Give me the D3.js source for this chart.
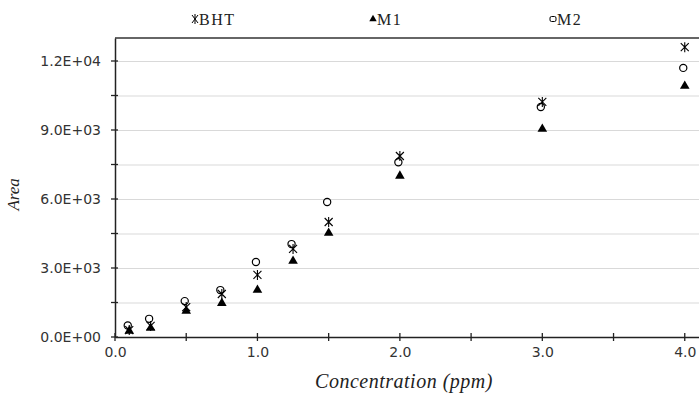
<!DOCTYPE html>
<html>
<head>
<meta charset="utf-8">
<script src="https://cdn.jsdelivr.net/npm/d3@7"></script>
<style>
    body { margin: 0; background: #fff; }
    svg { display: block; }
    .grid line { stroke: #d9d9d9; stroke-width: 1; }
    .grid .domain { display: none; }
    .tick text { font-family: "DejaVu Sans", sans-serif; font-size: 14px; fill: #333; }
    .axis-title { font-family: "Liberation Serif", "DejaVu Serif", serif; font-style: italic; fill: #222; }
    .legend-text { font-family: "Liberation Serif", "DejaVu Serif", serif; font-size: 16px; letter-spacing: 1.5px; fill: #222; }
</style>
</head>
<body>
<div id="chart"></div>
<script>
// concentration (ppm)
var concentrations = [0.1, 0.25, 0.5, 0.75, 1.0, 1.25, 1.5, 2.0, 3.0, 4.0];
// peak areas
var bhtArea = [300, 480, 1300, 1870, 2700, 3830, 5000, 7870, 10220, 12600];
var m1Area = [220, 350, 1090, 1430, 2000, 3260, 4480, 6960, 9000, 10870];
var m2Area = [500, 790, 1560, 2040, 3260, 4040, 5870, 7600, 10000, 11700];
var seriesNames = ["BHT", "M1", "M2"];
var yTickValues = [0, 3000, 6000, 9000, 12000];
var xTickValues = [0, 1, 2, 3, 4];

var graphWidth = 699, graphHeight = 393;
var margin = {top: 38, right: 0, bottom: 56, left: 115};
var width = graphWidth - margin.left - margin.right;
var height = graphHeight - margin.top - margin.bottom;

var svg = d3.select("#chart").append("svg")
    .attr("width", graphWidth)
    .attr("height", graphHeight);

var g = svg.append("g")
    .attr("transform", "translate(" + margin.left + "," + margin.top + ")");

var x = d3.scaleLinear().domain([0, 4.1]).range([0, width]);
var y = d3.scaleLinear().domain([0, 13000]).range([height, 0]);

// horizontal gridlines every 1500
g.append("g")
    .attr("class", "grid")
    .call(d3.axisLeft(y)
        .tickValues(d3.range(1500, 12001, 1500))
        .tickSize(-width)
        .tickFormat(""));

// top border
g.append("line")
    .attr("x1", 0).attr("x2", width)
    .attr("y1", 0).attr("y2", 0)
    .attr("stroke", "#333").attr("stroke-width", 1.5);

// tick marks crossing the axes
g.append("g").selectAll("line")
    .data(d3.range(0, 12001, 1500))
    .join("line")
    .attr("x1", -4).attr("x2", 3)
    .attr("y1", function (d) { return y(d); })
    .attr("y2", function (d) { return y(d); })
    .attr("stroke", "#222").attr("stroke-width", 1.3);

g.append("g").selectAll("line")
    .data(d3.range(0, 4.01, 0.5))
    .join("line")
    .attr("x1", function (d) { return x(d); })
    .attr("x2", function (d) { return x(d); })
    .attr("y1", height - 4).attr("y2", height + 4)
    .attr("stroke", "#222").attr("stroke-width", 1.3);

// Y axis
var yAxis = g.append("g")
    .call(d3.axisLeft(y)
        .tickValues(yTickValues)
        .tickSize(0)
        .tickPadding(14)
        .tickFormat(function (d) {
            var parts = d3.format(".1e")(d).split("e");   // "1.2e+4"
            var exp = parseInt(parts[1], 10);
            var e = Math.abs(exp);
            return parts[0] + "E" + (exp < 0 ? "-" : "+") + (e < 10 ? "0" + e : e);
        }));
yAxis.select(".domain").attr("stroke", "#222").attr("stroke-width", 1.5);

// X axis
var xAxis = g.append("g")
    .attr("transform", "translate(0," + height + ")")
    .call(d3.axisBottom(x)
        .tickValues(xTickValues)
        .tickSize(0)
        .tickPadding(10)
        .tickFormat(d3.format(".1f")));
xAxis.select(".domain").attr("stroke", "#222").attr("stroke-width", 1.5);

// axis titles
svg.append("text")
    .attr("class", "axis-title")
    .attr("font-size", "17px")
    .attr("transform", "translate(19," + (margin.top + y(6200)) + ") rotate(-90)")
    .attr("text-anchor", "middle")
    .text("Area");

svg.append("text")
    .attr("class", "axis-title")
    .attr("font-size", "20px")
    .attr("letter-spacing", "0.5px")
    .attr("x", 404)
    .attr("y", 388)
    .attr("text-anchor", "middle")
    .text("Concentration (ppm)");

// markers
var starPath = "M-4,-4L4,4M-4,4L4,-4M0,-5L0,5";
var triangle = d3.symbol().type(d3.symbolTriangle).size(40);

function points(values) {
    return concentrations.map(function (c, i) { return {x: c, y: values[i]}; });
}

g.append("g").selectAll("path")
    .data(points(m1Area))
    .join("path")
    .attr("d", triangle)
    .attr("transform", function (d) { return "translate(" + x(d.x) + "," + (y(d.y) - 1) + ")"; })
    .attr("fill", "#000");

g.append("g").selectAll("circle")
    .data(points(m2Area))
    .join("circle")
    .attr("cx", function (d) { return x(d.x) - 1.5; })
    .attr("cy", function (d) { return y(d.y); })
    .attr("r", 3.6)
    .attr("fill", "none")
    .attr("stroke", "#000")
    .attr("stroke-width", 1.2);

g.append("g").selectAll("path")
    .data(points(bhtArea))
    .join("path")
    .attr("d", starPath)
    .attr("transform", function (d) { return "translate(" + x(d.x) + "," + y(d.y) + ")"; })
    .attr("fill", "none")
    .attr("stroke", "#000")
    .attr("stroke-width", 1.1);

// legend
var legendX = [195, 373, 553];
var legend = svg.append("g");
seriesNames.forEach(function (name, i) {
    var lg = legend.append("g").attr("transform", "translate(" + legendX[i] + ",19)");
    if (name === "BHT") {
        lg.append("path").attr("d", "M-3,-4L3,4M-3,4L3,-4M0,-5L0,5")
            .attr("stroke", "#000").attr("fill", "none").attr("stroke-width", 1);
    } else if (name === "M1") {
        lg.append("path").attr("d", d3.symbol().type(d3.symbolTriangle).size(24))
            .attr("fill", "#000");
    } else {
        lg.append("rect").attr("x", -3).attr("y", -2.5).attr("width", 6).attr("height", 5).attr("rx", 1.5)
            .attr("fill", "none").attr("stroke", "#000").attr("stroke-width", 1);
    }
    lg.append("text")
        .attr("class", "legend-text")
        .attr("x", 4)
        .attr("y", 5.5)
        .text(name);
});
</script>
</body>
</html>
